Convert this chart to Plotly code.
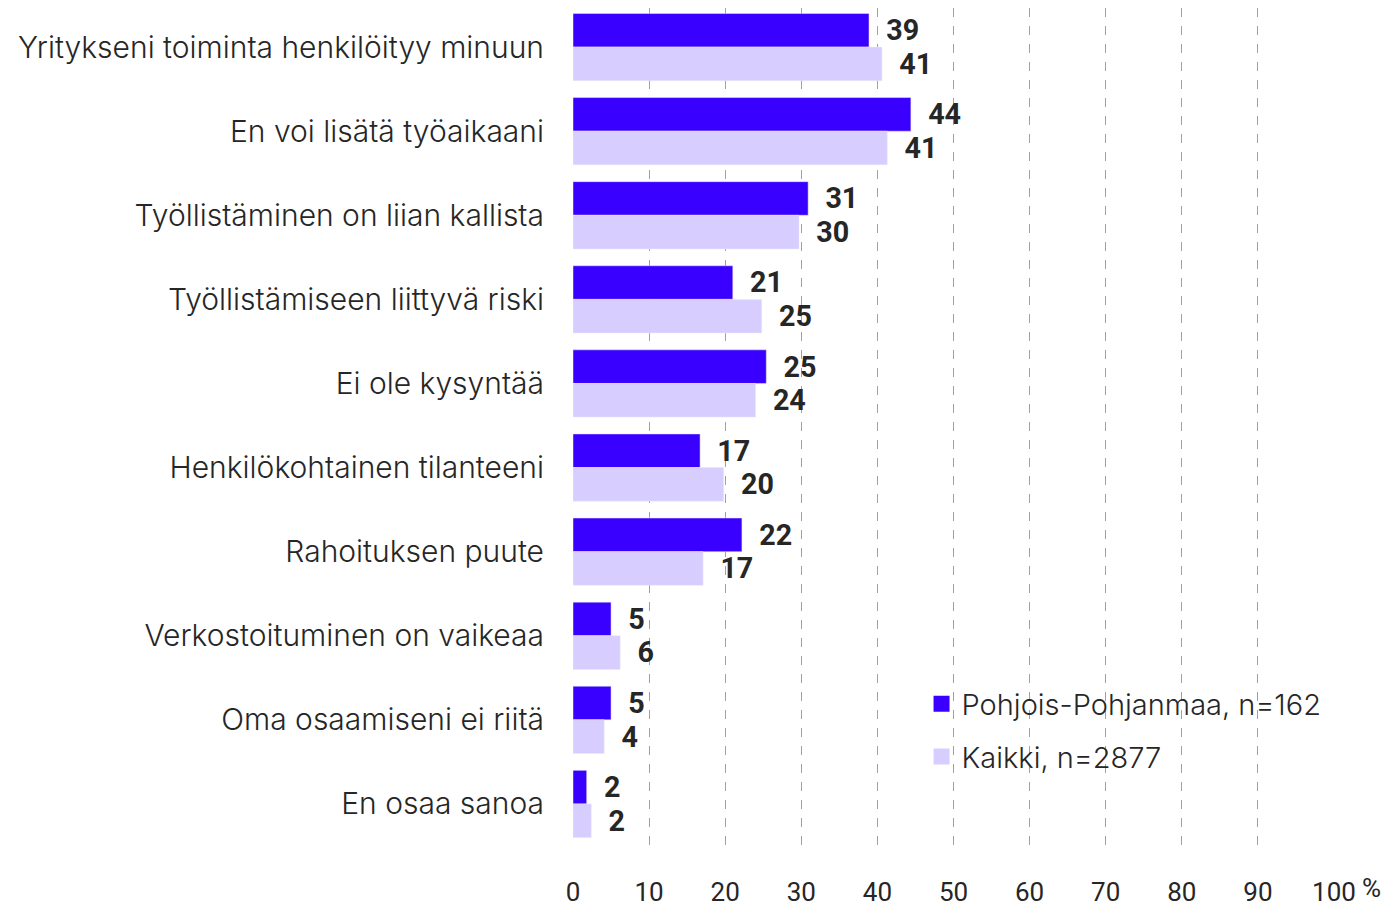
import plotly.graph_objects as go

# Data
categories = [
    "Yritykseni toiminta henkilöityy minuun",
    "En voi lisätä työaikaani",
    "Työllistäminen on liian kallista",
    "Työllistämiseen liittyvä riski",
    "Ei ole kysyntää",
    "Henkilökohtainen tilanteeni",
    "Rahoituksen puute",
    "Verkostoituminen on vaikeaa",
    "Oma osaamiseni ei riitä",
    "En osaa sanoa",
]
pohjois = [38.9, 44.4, 30.9, 21.0, 25.4, 16.7, 22.2, 5.0, 5.0, 1.8]
kaikki = [40.6, 41.3, 29.7, 24.8, 24.0, 19.8, 17.1, 6.2, 4.1, 2.4]
series_names = ["Pohjois-Pohjanmaa, n=162", "Kaikki, n=2877"]
x_ticks = [0, 10, 20, 30, 40, 50, 60, 70, 80, 90, 100]

DARK = "#3a00ff"
LIGHT = "#d8cdff"
TEXT = "#262626"
LABEL_FONT = "Inter"
NUM_FONT = "Roboto"

fig = go.Figure()

# bars (legend entries are drawn by the marker traces below)
for values, color in [(pohjois, DARK), (kaikki, LIGHT)]:
    fig.add_trace(
        go.Bar(
            y=categories,
            x=values,
            orientation="h",
            marker=dict(color=color),
            texttemplate="  %{x:.0f}",
            textposition="outside",
            textfont=dict(family=NUM_FONT, size=29, color=TEXT, weight="bold"),
            cliponaxis=False,
            showlegend=False,
        )
    )

# legend-only traces so the legend squares are bigger
for i, (name, color) in enumerate(zip(series_names, [DARK, LIGHT])):
    fig.add_trace(
        go.Scatter(
            x=[None],
            y=[None],
            mode="markers",
            name=name,
            marker=dict(symbol="square", size=18, color=color),
            legendgroup=str(i),
        )
    )

# page has an 8px body margin, so the figure is shrunk by that much
fig.update_layout(
    width=1381,
    height=899,
    margin=dict(l=565, r=55, t=0, b=57),
    plot_bgcolor="white",
    paper_bgcolor="white",
    barmode="group",
    bargap=0.2,
    bargroupgap=0,
    uniformtext=dict(mode="show", minsize=10),
    font=dict(family=NUM_FONT, color=TEXT),
    legend=dict(
        x=0.458,
        y=0.2,
        xanchor="left",
        yanchor="top",
        font=dict(family=LABEL_FONT, size=29, color=TEXT, weight=300),
        tracegroupgap=12,
        itemsizing="trace",
        bgcolor="rgba(0,0,0,0)",
    ),
)

fig.update_xaxes(
    range=[0, 100],
    tickvals=x_ticks,
    showgrid=True,
    gridcolor="#a0a0a0",
    griddash="dash",
    gridwidth=1,
    zeroline=False,
    showline=False,
    ticklabelstandoff=28,
    tickfont=dict(family=NUM_FONT, size=26, color=TEXT),
)
fig.update_yaxes(
    range=[9.5, -0.465],
    showgrid=False,
    showline=False,
    ticks="",
    ticklabelstandoff=28,
    tickfont=dict(family=LABEL_FONT, size=30, color=TEXT, weight=300),
)

# Percent sign after the last tick label
fig.add_annotation(
    x=1.0,
    y=0,
    xref="paper",
    yref="paper",
    xanchor="left",
    yanchor="top",
    xshift=26,
    yshift=-25,
    text="%",
    showarrow=False,
    font=dict(family=NUM_FONT, size=26, color=TEXT),
)

fig.write_html("out.html")
